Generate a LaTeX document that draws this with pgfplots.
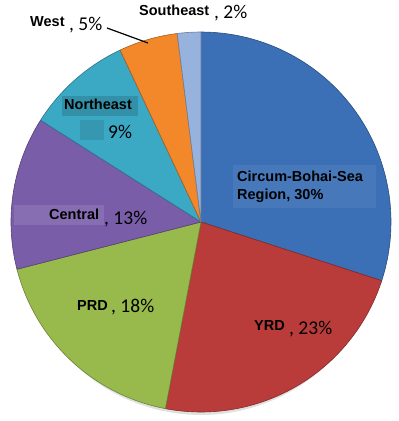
\documentclass[border=0pt]{standalone}
\usepackage{fontspec}
\setmainfont{Liberation Sans}
\newfontfamily\calfont{Carlito}
\usepackage{pgfplots}
\pgfplotsset{compat=1.18}
\definecolor{cB}{HTML}{3B6FB6}
\definecolor{cR}{HTML}{BA3C3A}
\definecolor{cG}{HTML}{98BA4C}
\definecolor{cP}{HTML}{7A5DA8}
\definecolor{cA}{HTML}{3BA8C4}
\definecolor{cO}{HTML}{F2882A}
\definecolor{cL}{HTML}{98B2DE}
% data (percent)
\def\vCB{30}\def\vYRD{23}\def\vPRD{18}\def\vCen{13}\def\vNE{9}\def\vW{5}\def\vSE{2}
\pgfmathsetmacro\aA{90}
\pgfmathsetmacro\aB{\aA-3.6*\vCB}
\pgfmathsetmacro\aC{\aB-3.6*\vYRD}
\pgfmathsetmacro\aD{\aC-3.6*\vPRD}
\pgfmathsetmacro\aE{\aD-3.6*\vCen}
\pgfmathsetmacro\aF{\aE-3.6*\vNE}
\pgfmathsetmacro\aG{\aF-3.6*\vW}
\pgfmathsetmacro\aH{\aG-3.6*\vSE}
\newcommand\pieslice[3]{\addplot[fill=#1, draw=#1!70!black, line width=0.6pt, line join=round, domain=#2:#3, samples=80] ({201+190*cos(x)},{222-190*sin(x)}) -- (axis cs:201,222) -- cycle;}
\tikzset{blab/.style={anchor=base west, inner sep=0pt, font=\bfseries\fontsize{14.5}{16}\selectfont},
  plab/.style={anchor=base west, inner sep=0pt, font=\calfont\fontsize{19.5}{22}\selectfont}}
\begin{document}
\begin{tikzpicture}
\begin{axis}[scale only axis, width=399pt, height=421pt,
  xmin=0, xmax=399, ymin=0, ymax=421, y dir=reverse,
  hide axis, clip=false]
\addplot[draw=none, forget plot] coordinates {(0,0) (399,421)};
\addplot[fill=black!12, draw=none, domain=-170:-10, samples=60] ({201+186*cos(x)},{225-190*sin(x)}) -- cycle;
\pieslice{cB}{\aB}{\aA}
\pieslice{cR}{\aC}{\aB}
\pieslice{cG}{\aD}{\aC}
\pieslice{cP}{\aE}{\aD}
\pieslice{cA}{\aF}{\aE}
\pieslice{cO}{\aG}{\aF}
\pieslice{cL}{\aH}{\aG}
\addplot[black, line width=1.2pt] coordinates {(107,28) (148,43)};
% label backgrounds
\node[fill=cB!94!white, minimum width=143pt, minimum height=43pt, inner sep=0pt, anchor=north west] at (axis cs:233,165) {};
\node[fill=cA!86!black, minimum width=76pt, minimum height=20pt, inner sep=0pt, anchor=north west] at (axis cs:62,96) {};
\node[fill=cA!90!black, minimum width=24pt, minimum height=20pt, inner sep=0pt, anchor=north west] at (axis cs:80,120) {};
\node[fill=cP!90!white, minimum width=90pt, minimum height=20pt, inner sep=0pt, anchor=north west] at (axis cs:14,205) {};
% labels
\node[blab] at (axis cs:237,181.7) {Circum-Bohai-Sea};
\node[blab] at (axis cs:237,199) {Region, 30\%};
\node[blab] at (axis cs:254,330.7) {YRD};
\node[plab] at (axis cs:289,334) {, 23\%};
\node[blab] at (axis cs:77,310) {PRD};
\node[plab] at (axis cs:111,312) {, 18\%};
\node[blab] at (axis cs:49,219) {Central};
\node[plab] at (axis cs:104,224) {, 13\%};
\node[blab] at (axis cs:64,109) {Northeast};
\node[plab] at (axis cs:108,138) {9\%};
\node[blab] at (axis cs:30,26) {West};
\node[plab] at (axis cs:69,30) {, 5\%};
\node[blab] at (axis cs:139,15) {Southeast};
\node[plab] at (axis cs:214,18) {, 2\%};
\end{axis}
\end{tikzpicture}
\end{document}
